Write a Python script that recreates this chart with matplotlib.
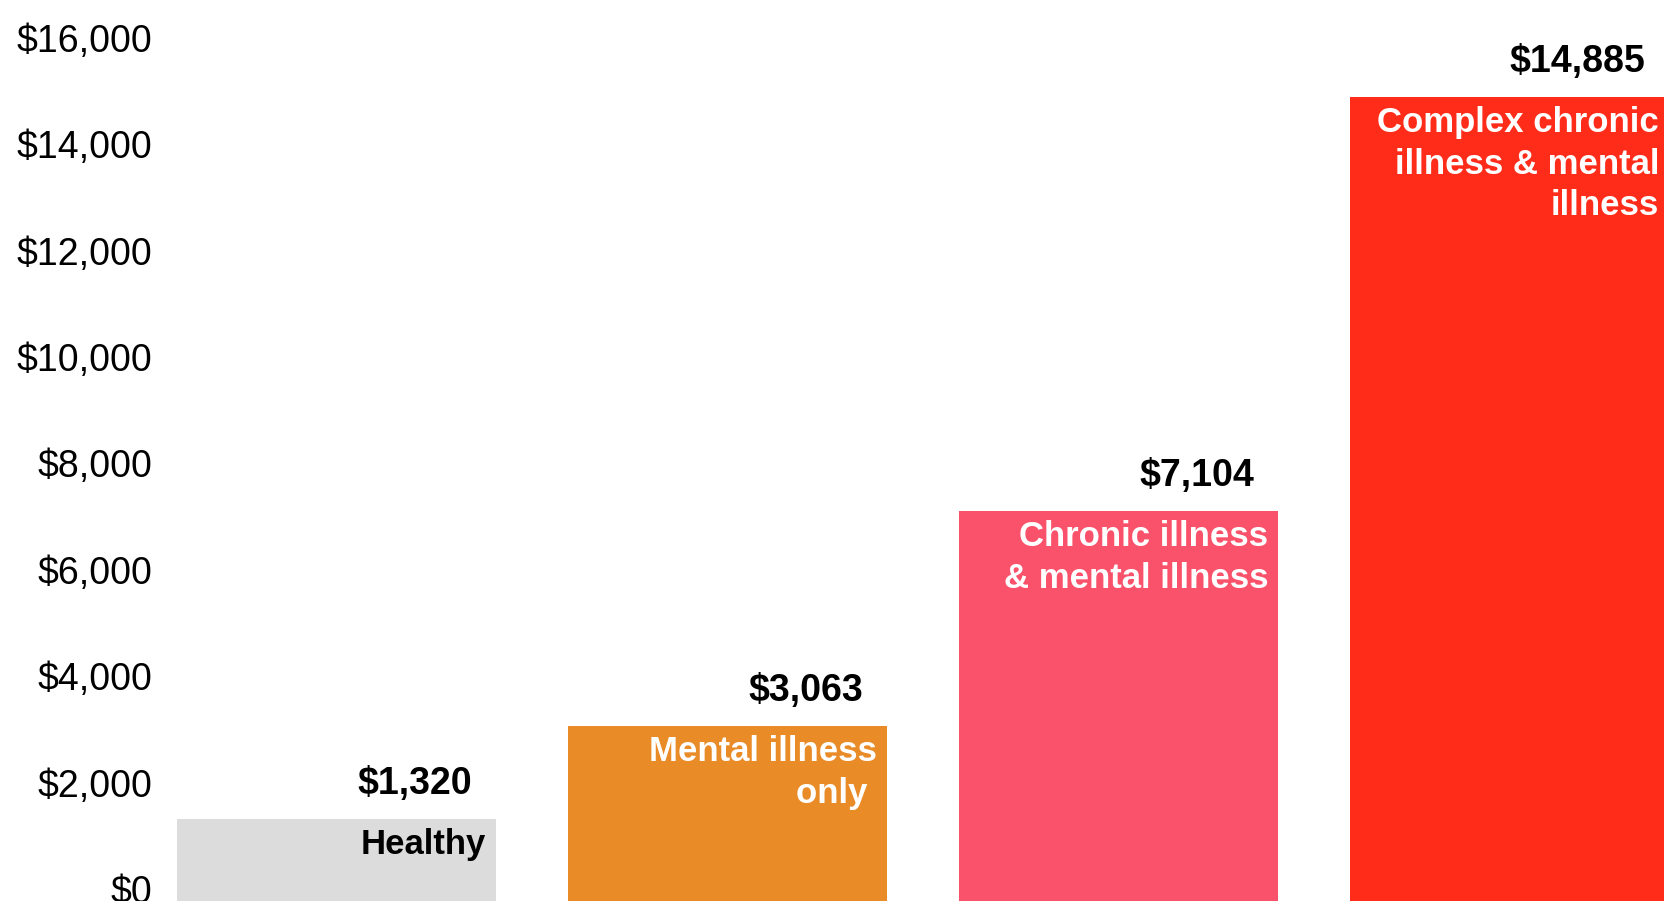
import matplotlib.pyplot as plt

plt.rcParams['font.family'] = ['Liberation Sans', 'DejaVu Sans']

categories = ["Healthy",
              "Mental illness\nonly ",
              "Chronic illness\n& mental illness",
              "Complex chronic\nillness & mental\nillness"]
costs = [1320, 3063, 7104, 14885]
value_labels = ["$1,320", "$3,063", "$7,104", "$14,885"]
tick_values = [0, 2000, 4000, 6000, 8000, 10000, 12000, 14000, 16000]
tick_labels = ["$0", "$2,000", "$4,000", "$6,000", "$8,000",
               "$10,000", "$12,000", "$14,000", "$16,000"]

bar_colors = ["#dcdcdc", "#e98b27", "#fb526b", "#ff2c1a"]
text_colors = ["black", "white", "white", "white"]

# layout (figure is 1664x901 px at dpi 100)
Y_MIN, Y_MAX = -226, 16714
BAR_W = 0.816

fig = plt.figure(figsize=(16.64, 9.01), dpi=100)
ax = fig.add_axes([160 / 1664, 0, 1 - 160 / 1664, 1])

x = range(len(costs))
ax.bar(x, [c - Y_MIN for c in costs], bottom=Y_MIN, width=BAR_W,
       color=bar_colors, linewidth=0)

for i, c in enumerate(costs):
    right = i + BAR_W / 2
    # value above the bar
    ax.annotate(value_labels[i], (right, c), xytext=(-24, 35),
                textcoords='offset pixels', ha='right', va='center',
                fontsize=27, fontweight='bold', color='black',
                annotation_clip=False)
    # category name inside the bar
    ax.annotate(categories[i], (right, c), xytext=(-10, -9),
                textcoords='offset pixels', ha='right', va='top',
                fontsize=25, fontweight='bold', color=text_colors[i],
                linespacing=1.33, annotation_clip=False)

ax.set_xlim(-0.4514, 3.395)
ax.set_ylim(Y_MIN, Y_MAX)
ax.set_xticks([])
ax.set_yticks(tick_values)
ax.set_yticklabels(tick_labels, fontsize=27)
ax.tick_params(axis='y', length=0, pad=5.8)
for s in ax.spines.values():
    s.set_visible(False)

fig.savefig("out.png", dpi=100)
